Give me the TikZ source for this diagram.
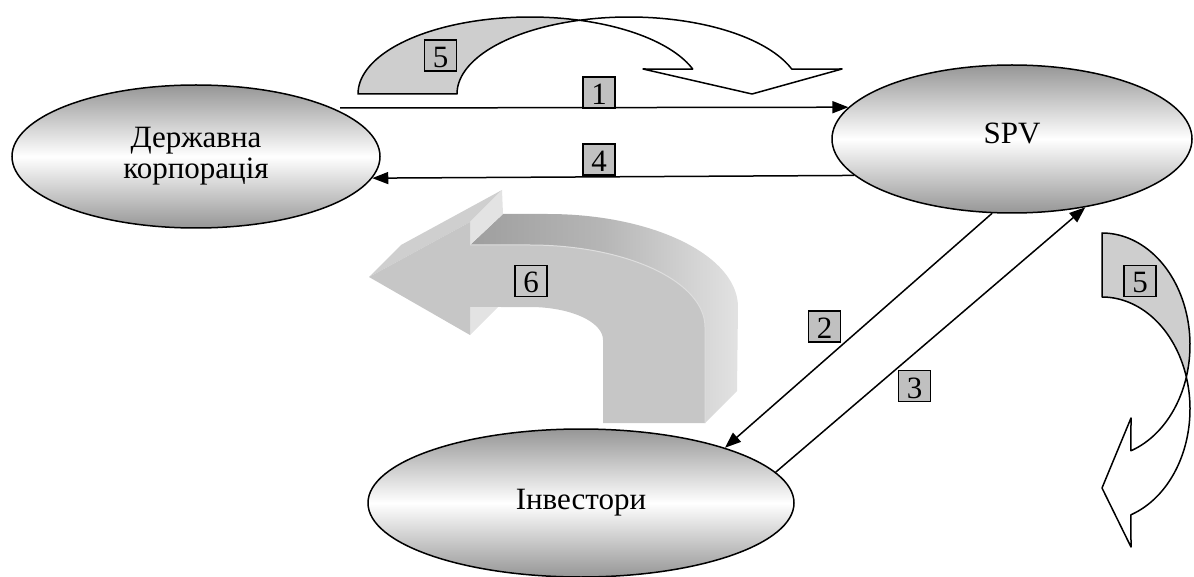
\documentclass[tikz,border=0pt]{standalone}
\usepackage{fontspec}
\setmainfont{Liberation Serif}
\usetikzlibrary{shapes.geometric,arrows.meta}
\definecolor{boxgray}{RGB}{192,192,192}
\definecolor{bandgray}{RGB}{206,206,206}
\definecolor{ellgray}{RGB}{150,150,150}
\definecolor{frontgray}{RGB}{198,198,198}
\definecolor{headtop}{RGB}{207,207,207}
\definecolor{notchgray}{RGB}{227,227,227}
\definecolor{topA}{RGB}{158,158,158}
\definecolor{topB}{RGB}{182,182,182}
\definecolor{topC}{RGB}{226,226,226}
\definecolor{hlgray}{RGB}{222,222,222}
\begin{document}
\begin{tikzpicture}[x=1pt,y=-1pt, font=\fontsize{31}{31}\selectfont,
  ell/.style={ellipse, draw, line width=1.5pt, inner sep=0pt, top color=ellgray, bottom color=ellgray, middle color=white, align=center},
  conn/.style={line width=1.5pt, -{Triangle[length=16pt,width=12pt]}},
  numbox/.style={draw, line width=1.5pt, fill=boxgray, minimum width=32pt, minimum height=31pt, inner sep=0pt, text height=24pt, text depth=0pt},
  band/.style={draw, line width=1.5pt, line join=round},
  face/.style={line join=round}]
\useasboundingbox (0,0) rectangle (1194,577);

% ---- 3D curved arrow (6) ----
\shade[face, left color=topA, right color=topC, middle color=topB]
  (470,245) -- (530,245)
  -- plot[domain=-90:0,samples=50,variable=\t] ({530+175*cos(\t)},{327+82*sin(\t)})
  -- (705,423) -- (737,391) -- (738,307)
  -- plot[domain=0:-90,samples=50,variable=\t] ({548+190*cos(\t)},{307+93*sin(\t)})
  -- (503,214) -- cycle;
\fill[face, headtop] (369,277) -- (401,245) -- (502,190) -- (470,222) -- cycle;
\fill[face, notchgray] (470,222) -- (470,245) -- (503,214) -- (502,190) -- cycle;
\fill[face, notchgray] (470,307) -- (470,335) -- (502,303) -- (502,275) -- cycle;
\fill[face, frontgray] (369,277) -- (470,222) -- (470,245) -- (530,245)
  -- plot[domain=-90:0,samples=50,variable=\t] ({530+175*cos(\t)},{327+82*sin(\t)})
  -- (705,423) -- (603,423) -- (603,340)
  -- plot[domain=0:-90,samples=40,variable=\t] ({530+73*cos(\t)},{340+33*sin(\t)})
  -- (470,307) -- (470,335) -- cycle;
\draw[hlgray, line width=1pt] (470,245) -- (530,245)
  -- plot[domain=-90:0,samples=50,variable=\t] ({530+175*cos(\t)},{327+82*sin(\t)}) -- (705,423);

% ---- top curved arrow (5) ----
\path[band, fill=white]
  plot[domain=-106.7:-18.9,samples=60,variable=\t] ({629+172*cos(\t)},{94+77*sin(\t)})
  -- (842,69) -- (752,94) -- (643,69)
  -- plot[domain=-18.9:-73.3,samples=40,variable=\t] ({530+172*cos(\t)},{94+77*sin(\t)})
  -- cycle;
\path[band, fill=bandgray]
  plot[domain=-180:-73.3,samples=60,variable=\t] ({530+172*cos(\t)},{94+77*sin(\t)})
  -- plot[domain=-106.7:-180,samples=60,variable=\t] ({629+172*cos(\t)},{94+77*sin(\t)})
  -- cycle;

% ---- right curved arrow (5) ----
\path[band, fill=white]
  plot[domain=16.6:70.8,samples=40,variable=\t] ({1102+88*cos(\t)},{345+112*sin(\t)})
  -- (1131,418) -- (1102,488) -- (1131,547)
  -- plot[domain=70.8:-16.6,samples=50,variable=\t] ({1102+88*cos(\t)},{409+112*sin(\t)})
  -- cycle;
\path[band, fill=bandgray]
  plot[domain=-90:16.6,samples=50,variable=\t] ({1102+88*cos(\t)},{345+112*sin(\t)})
  -- plot[domain=-16.6:-90,samples=50,variable=\t] ({1102+88*cos(\t)},{409+112*sin(\t)})
  -- cycle;

% ---- ellipses ----
\node[ell, minimum width=368pt, minimum height=143pt] (corp) at (196,156.5) {Державна\\корпорація};
\node[ell, minimum width=360pt, minimum height=148pt, text depth=12pt] (spv) at (1012,139) {SPV};
\node[ell, minimum width=426pt, minimum height=148pt] (inv) at (581,503) {Інвестори};

% ---- connectors ----
\coordinate (s1) at (340,108);
\draw[conn] (s1) -- (spv.169.4);
\draw[conn] (spv.193) -- (corp.-7);
\draw[conn] (spv.255) -- (inv.21.9);
\draw[conn] (inv.9.5) -- (spv.-43.4);

% ---- number boxes ----
\node[numbox] (b1) at (599,92.5) {1};
\node[numbox] (b4) at (599,159.5) {4};
\node[numbox] (b2) at (824.5,326.5) {2};
\node[numbox] (b3) at (914.5,386) {3};
\node[numbox] (b5a) at (440.5,55.5) {5};
\node[numbox] (b5b) at (1140,281) {5};
\node[numbox, fill=frontgray] (b6) at (531,281) {6};
\end{tikzpicture}
\end{document}
